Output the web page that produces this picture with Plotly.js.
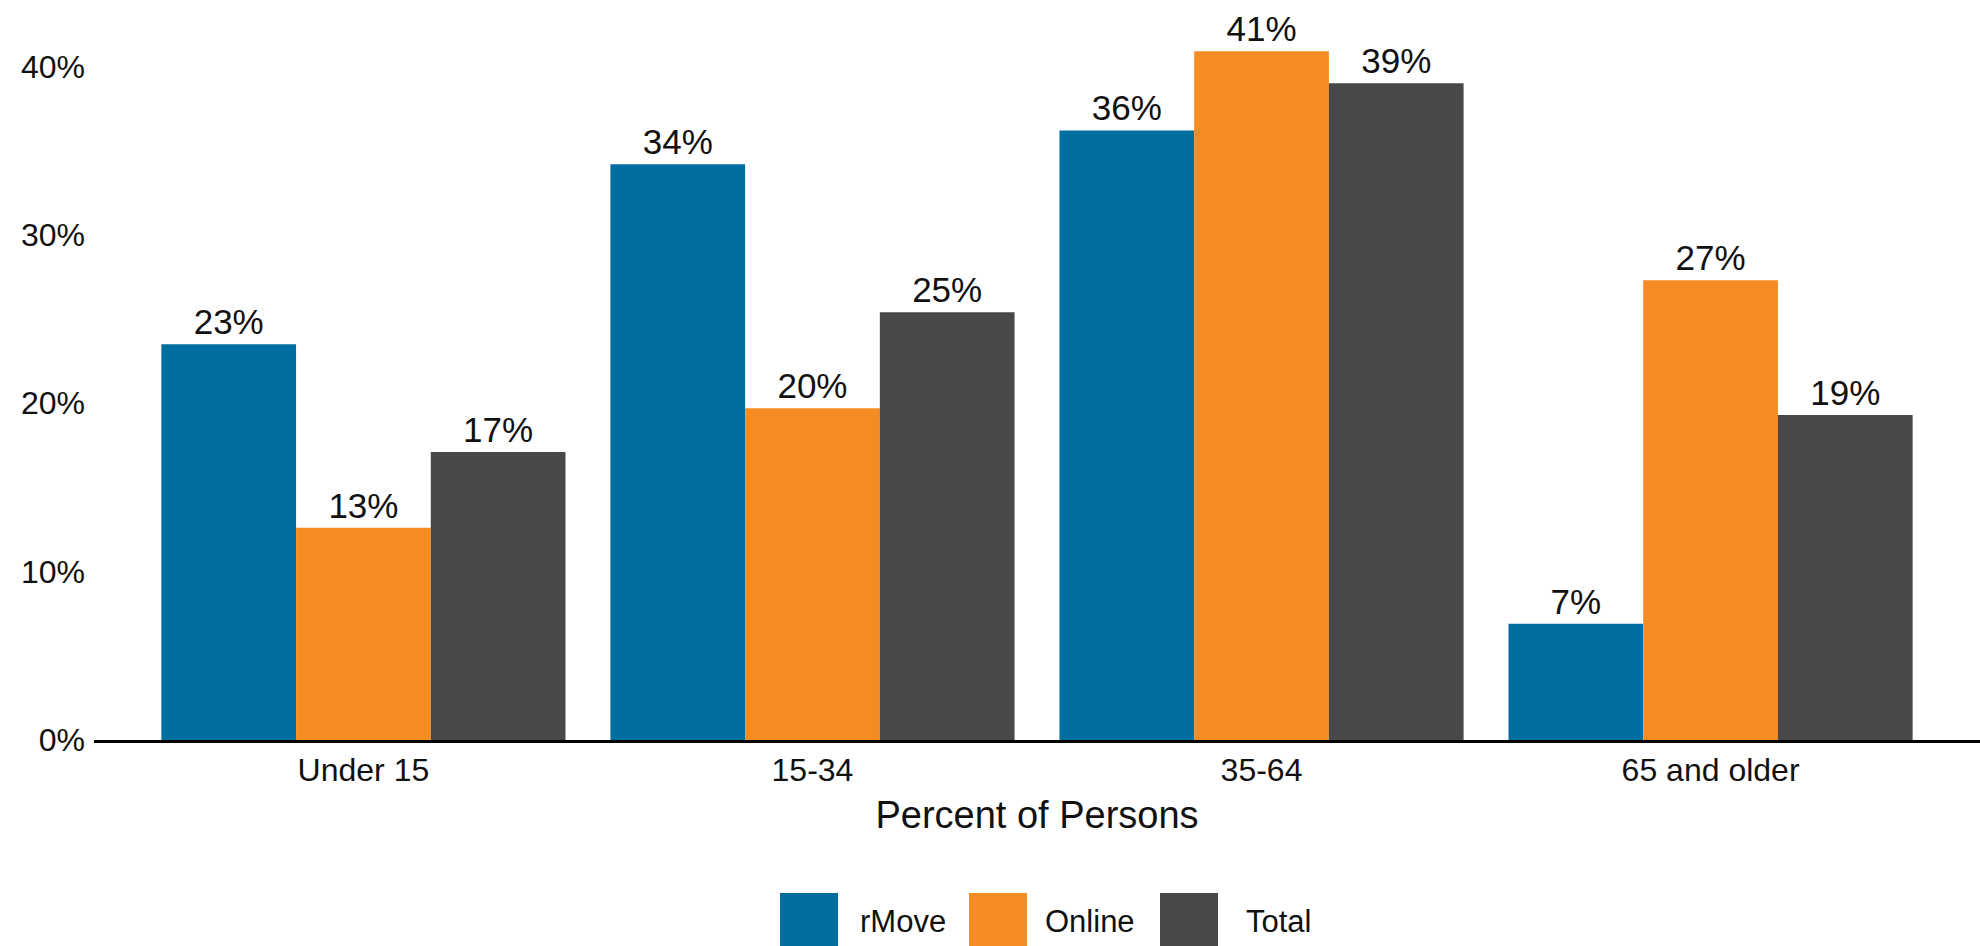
<!DOCTYPE html>
<html>
<head>
<meta charset="utf-8">
<script src="https://cdn.plot.ly/plotly-3.0.1.min.js"></script>
<style>html,body{margin:0;padding:0;background:#fff;}#chart{width:1980px;height:946px;}</style>
</head>
<body>
<div id="chart"></div>
<script>
var categories = ["Under 15", "15-34", "35-64", "65 and older"];
var seriesNames = ["rMove", "Online", "Total"];
var rMove = [23.5, 34.2, 36.2, 6.9];
var online = [12.6, 19.7, 40.9, 27.3];
var total = [17.1, 25.4, 39.0, 19.3];
var labelsRMove = ["23%", "34%", "36%", "7%"];
var labelsOnline = ["13%", "20%", "41%", "27%"];
var labelsTotal = ["17%", "25%", "39%", "19%"];
var yTicks = [0, 10, 20, 30, 40];
var yTickText = ["0%", "10%", "20%", "30%", "40%"];
var colors = ["#006FA0", "#F58C21", "#48484A"];

var font = "Liberation Sans, Arial, sans-serif";
var W = 1980, H = 946;
var mL = 94, mR = 0, mT = 16, mB = 206;
var pw = W - mL - mR, ph = H - mT - mB;
function px2x(px){ return (px - mL) / pw; }
function py2y(py){ return (H - mB - py) / ph; }

function mk(name, vals, labels, color){
  return {
    type: "bar", name: name, x: categories, y: vals,
    text: labels, textposition: "outside", cliponaxis: false,
    textfont: {family: font, size: 35, color: "#111"},
    marker: {color: color, line: {width: 0}},
    hoverinfo: "x+y", showlegend: false
  };
}
var data = [
  mk(seriesNames[0], rMove, labelsRMove, colors[0]),
  mk(seriesNames[1], online, labelsOnline, colors[1]),
  mk(seriesNames[2], total, labelsTotal, colors[2])
];

// legend drawn manually (large square keys)
var shapes = [], annotations = [];
var legendKeys = [[780, 838], [969, 1027], [1160, 1218]];
var legendTextX = [858, 1043, 1244];
for (var i = 0; i < 3; i++) {
  shapes.push({type: "rect", xref: "paper", yref: "paper",
    x0: px2x(legendKeys[i][0]), x1: px2x(legendKeys[i][1]),
    y0: py2y(952), y1: py2y(893), fillcolor: colors[i], line: {width: 0}});
  annotations.push({xref: "paper", yref: "paper", x: px2x(legendTextX[i]), y: py2y(921),
    xanchor: "left", yanchor: "middle", text: seriesNames[i], showarrow: false,
    font: {family: font, size: 31, color: "#111"}});
}

var layout = {
  width: W, height: H,
  margin: {l: mL, r: mR, t: mT, b: mB, pad: 0},
  paper_bgcolor: "#fff", plot_bgcolor: "#fff",
  barmode: "group", bargap: 0.1, bargroupgap: 0,
  showlegend: false,
  xaxis: {
    type: "category", range: [-0.6, 3.6],
    showline: true, linecolor: "#000", linewidth: 3,
    ticks: "", showgrid: false, zeroline: false,
    tickfont: {family: font, size: 32, color: "#111"},
    title: {text: "Percent of Persons", font: {family: font, size: 38, color: "#111"}, standoff: 14}
  },
  yaxis: {
    range: [0, 43], tickvals: yTicks, ticktext: yTickText,
    showgrid: false, zeroline: false, showline: false, ticks: "",
    tickfont: {family: font, size: 32, color: "#111"},
    ticklabelstandoff: 8
  },
  shapes: shapes,
  annotations: annotations
};
Plotly.newPlot("chart", data, layout, {displayModeBar: false, staticPlot: true});
</script>
</body>
</html>
